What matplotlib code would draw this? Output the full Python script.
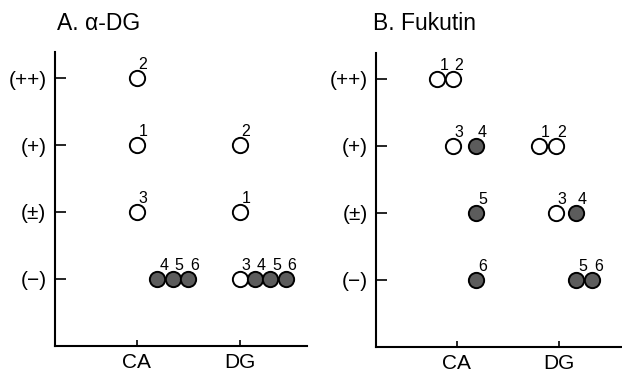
import matplotlib
matplotlib.use('Agg')
import matplotlib.pyplot as plt

plt.rcParams['font.family'] = ['Liberation Sans', 'DejaVu Sans']

# y categories, bottom to top
levels = ['(\u2212)', '(\u00b1)', '(+)', '(++)']
groups = ['CA', 'DG']

# panel A: alpha-DG
a_group = [0, 0, 0, 0, 0, 0, 1, 1, 1, 1, 1, 1]
a_sample = [1, 2, 3, 4, 5, 6, 1, 2, 3, 4, 5, 6]
a_level = [2, 3, 1, 0, 0, 0, 1, 2, 0, 0, 0, 0]
a_shift = [0, 0, 0, 0.2, 0.35, 0.5, 0, 0, 0, 0.15, 0.3, 0.45]

# panel B: Fukutin
b_group = [0, 0, 0, 0, 0, 0, 1, 1, 1, 1, 1, 1]
b_sample = [1, 2, 3, 4, 5, 6, 1, 2, 3, 4, 5, 6]
b_level = [3, 3, 2, 2, 1, 0, 2, 2, 1, 1, 0, 0]
b_shift = [-0.19, -0.04, -0.04, 0.19, 0.19, 0.19, -0.19, -0.03, -0.03, 0.17, 0.17, 0.33]


def draw_panel(ax, group, sample, level, shift, xlim):
    for g, s, lv, dx in zip(group, sample, level, shift):
        x = g + dx
        face = '#5c5c5c' if s >= 4 else 'white'
        ax.plot(x, lv, 'o', ms=11, mfc=face, mec='black', mew=1.4, zorder=3)
        ax.annotate(str(s), (x, lv), xytext=(4.5, 9.5), textcoords='offset points',
                    ha='center', va='center', fontsize=11.5)
    ax.set_xlim(*xlim)
    ax.set_ylim(-1.01, 3.39)
    ax.set_xticks(range(len(groups)))
    ax.set_xticklabels(groups, fontsize=15)
    ax.set_yticks(range(len(levels)))
    ax.set_yticklabels(levels, fontsize=15)
    ax.tick_params(axis='y', direction='in', length=8, width=1.2, pad=6)
    ax.tick_params(axis='x', direction='in', length=4, width=1.2, pad=5)
    for side in ['top', 'right']:
        ax.spines[side].set_visible(False)
    for side in ['left', 'bottom']:
        ax.spines[side].set_linewidth(1.5)


fig = plt.figure(figsize=(6.22, 3.75), dpi=100)
ax1 = fig.add_axes([0.088, 0.077, 0.406, 0.784])
ax2 = fig.add_axes([0.605, 0.074, 0.395, 0.785])

draw_panel(ax1, a_group, a_sample, a_level, a_shift, (-0.80, 1.66))
draw_panel(ax2, b_group, b_sample, b_level, b_shift, (-0.79, 1.62))

fig.text(0.091, 0.937, 'A. \u03b1-DG', fontsize=16.5, va='center', ha='left')
fig.text(0.599, 0.937, 'B. Fukutin', fontsize=16.5, va='center', ha='left')

fig.savefig('out.png', dpi=100)
